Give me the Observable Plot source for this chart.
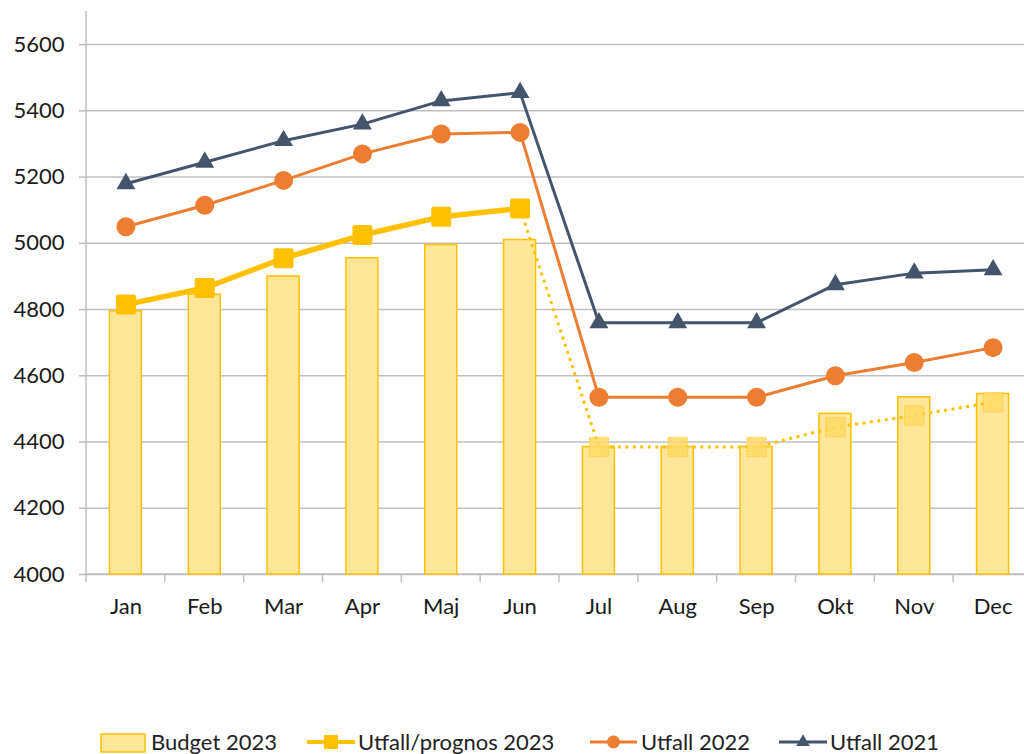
<!DOCTYPE html>
<html><head><meta charset="utf-8">
<script src="https://cdn.jsdelivr.net/npm/d3@7"></script>
<script src="https://cdn.jsdelivr.net/npm/@observablehq/plot@0.6"></script>
<style>
html,body{margin:0;padding:0;overflow:hidden;background:#fff;}
#wrap{position:relative;width:1024px;height:754px;font-family:Lato,sans-serif;overflow:hidden;}
#chart{width:1032px;height:725px;}
#chart svg{max-width:none !important;width:1032px !important;height:725px !important;display:block;}
#legend{position:absolute;left:0;top:725px;width:1024px;height:29px;}
.lt{position:absolute;top:0;height:29px;line-height:34px;font-size:22px;color:#222;white-space:nowrap;}
#legsw{position:absolute;left:0;top:0;}
</style></head><body><div id="wrap"><div id="chart"></div><div id="legend"></div></div>
<script>
const months = ["Jan","Feb","Mar","Apr","Maj","Jun","Jul","Aug","Sep","Okt","Nov","Dec"];
const budget2023 = [4795,4845,4900,4955,4995,5010,4385,4385,4385,4485,4535,4545];
const utfall2023 = [4815,4865,4955,5025,5080,5105];            // Jan–Jun
const prognos2023 = [5105,4385,4385,4385,4445,4480,4520];      // Jun–Dec
const utfall2022 = [5050,5115,5190,5270,5330,5335,4535,4535,4535,4600,4640,4685];
const utfall2021 = [5180,5245,5310,5360,5430,5455,4760,4760,4760,4875,4910,4920];
const yTicks = [4000,4200,4400,4600,4800,5000,5200,5400,5600];
const legendLabels = ["Budget 2023","Utfall/prognos 2023","Utfall 2022","Utfall 2021"];

const C2023 = "#FFC000", C2022 = "#ED7D31", C2021 = "#44546A", CBAR = "#FFE699", GRID = "#BFBFBF";

const budgetData = months.map((m,i)=>({month:m, value:budget2023[i]}));
const u2023 = utfall2023.map((v,i)=>({month:months[i], value:v}));
const p2023 = prognos2023.map((v,i)=>({month:months[i+5], value:v}));
const p2023m = p2023.slice(1);
const u2022 = utfall2022.map((v,i)=>({month:months[i], value:v}));
const u2021 = utfall2021.map((v,i)=>({month:months[i], value:v}));

const axisLines = (index, scales, values, dims) => {
  const {x, y} = scales;
  const bw = x.bandwidth();
  const step = x(months[1]) - x(months[0]);
  const gap = (step - bw) / 2;
  const y0 = y(4000);
  const g = d3.create("svg:g").attr("stroke", GRID).attr("stroke-width", 1.5).attr("fill", "none");
  const left = x(months[0]) - gap;
  g.append("line").attr("x1", left).attr("x2", left).attr("y1", y(5700)).attr("y2", y0 + 8);
  g.append("line").attr("x1", left).attr("x2", dims.width - dims.marginRight).attr("y1", y0).attr("y2", y0);
  months.forEach((m, i) => {
    if (i === 0) return;
    const bx = x(m) - gap;
    g.append("line").attr("x1", bx).attr("x2", bx).attr("y1", y0).attr("y2", y0 + 8);
  });
  return g.node();
};

const chart = Plot.plot({
  width: 1032, height: 725,
  marginLeft: 86, marginRight: 0, marginTop: 11, marginBottom: 151,
  style: {fontFamily: "Lato, sans-serif", fontSize: "22px", color: "#222", background: "#fff", maxWidth: "none"},
  x: {type: "band", domain: months, paddingInner: 0.594, paddingOuter: 0.297, align: 0.5, round: false},
  y: {domain: [4000, 5700]},
  marks: [
    Plot.gridY(yTicks, {stroke: GRID, strokeOpacity: 1, strokeWidth: 1.5}),
    Plot.axisY(yTicks, {tickSize: 7, tickPadding: 15, stroke: GRID, strokeWidth: 1.5, fill: "#1a1a1a", label: null, tickFormat: d => String(d)}),
    Plot.axisX({tickSize: 0, tickPadding: 24, label: null, fill: "#1a1a1a"}),
    axisLines,
    Plot.barY(budgetData, {x: "month", y1: 4000, y2: "value", fill: CBAR, stroke: C2023, strokeWidth: 1.5}),
    Plot.line(p2023, {x: "month", y: "value", stroke: C2023, strokeWidth: 3, strokeDasharray: "3 4.5", strokeLinecap: "butt"}),
    Plot.dot(p2023m, {x: "month", y: "value", symbol: "square", r: 11, fill: "#FFD966", fillOpacity: 0.85, stroke: C2023, strokeWidth: 1, strokeDasharray: "1.5 1.5", strokeOpacity: 0.7}),
    Plot.line(u2021, {x: "month", y: "value", stroke: C2021, strokeWidth: 3}),
    Plot.dot(u2021, {x: "month", y: "value", symbol: "triangle", r: 7, fill: C2021}),
    Plot.line(u2022, {x: "month", y: "value", stroke: C2022, strokeWidth: 3}),
    Plot.dot(u2022, {x: "month", y: "value", symbol: "circle", r: 9.5, fill: C2022}),
    Plot.line(u2023, {x: "month", y: "value", stroke: C2023, strokeWidth: 5.5}),
    Plot.dot(u2023, {x: "month", y: "value", symbol: "square", r: 9, fill: C2023, stroke: C2023, strokeWidth: 4, strokeLinejoin: "round"})
  ]
});
document.getElementById("chart").appendChild(chart);

// Legend
const leg = document.getElementById("legend");
const sw = d3.select(leg).append("svg").attr("id", "legsw").attr("width", 1024).attr("height", 29);
const cy = 17;
sw.append("rect").attr("x", 101).attr("y", 9).attr("width", 44).attr("height", 18).attr("fill", CBAR).attr("stroke", C2023).attr("stroke-width", 1.5);
const lineSw = (x1, x2, color, w) => sw.append("line").attr("x1", x1).attr("x2", x2).attr("y1", cy).attr("y2", cy).attr("stroke", color).attr("stroke-width", w);
lineSw(307, 355, C2023, 4);
sw.append("rect").attr("x", 325).attr("y", cy - 6).attr("width", 12).attr("height", 12).attr("fill", C2023).attr("stroke", C2023).attr("stroke-width", 2).attr("stroke-linejoin", "round");
lineSw(590, 637, C2022, 3);
sw.append("circle").attr("cx", 613.5).attr("cy", cy).attr("r", 6.5).attr("fill", C2022);
lineSw(779, 827, C2021, 3);
sw.append("path").attr("d", d3.symbol(d3.symbolTriangle, 80)()).attr("transform", `translate(803,${cy})`).attr("fill", C2021);
const textX = [151, 358, 641, 830];
legendLabels.forEach((t, i) => {
  const s = document.createElement("span");
  s.className = "lt"; s.style.left = textX[i] + "px"; s.textContent = t;
  leg.appendChild(s);
});
</script></body></html>
